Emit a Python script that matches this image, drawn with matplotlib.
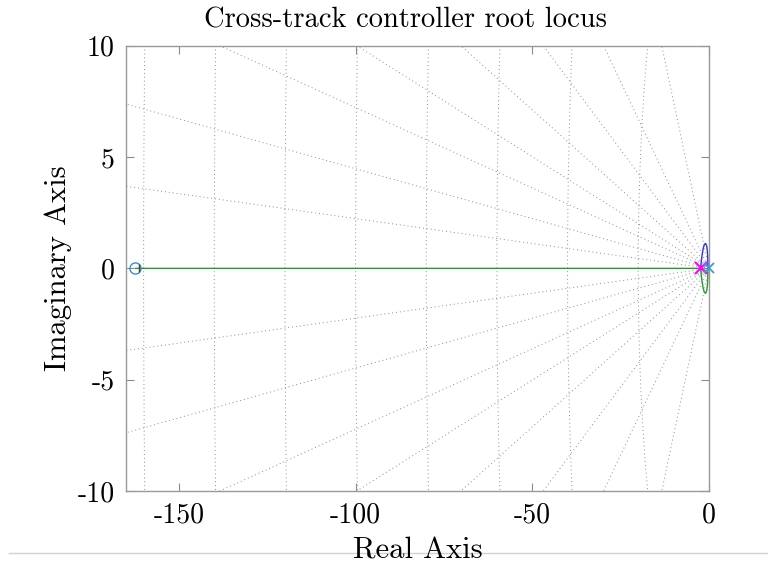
import numpy as np
import matplotlib
matplotlib.use("Agg")
import matplotlib.pyplot as plt
from matplotlib.lines import Line2D
from matplotlib.ticker import FuncFormatter

plt.rcParams['font.family'] = 'serif'
plt.rcParams['font.serif'] = ['cmr10']
plt.rcParams['mathtext.fontset'] = 'cm'

# locus branches
blue_re = [-0.25, -0.3, -0.4, -0.6, -0.9, -1.25, -1.6, -1.95, -2.2, -2.3]
blue_im = [0.0, 0.4, 0.75, 1.0, 1.12, 1.08, 0.9, 0.55, 0.25, 0.0]
green_re = [-0.25, -0.3, -0.4, -0.6, -0.9, -1.25, -1.6, -1.95, -2.2, -2.3, -162.3]
green_im = [0.0, -0.4, -0.75, -1.0, -1.12, -1.08, -0.9, -0.55, -0.25, 0.0, 0.0]

poles_re = [-2.3, 0.0]
zeros_re = [-162.4]

# sgrid
damping = [0.99975, 0.999, 0.9974, 0.995, 0.99, 0.978, 0.948, 0.8]
wn = [20, 40, 60, 80, 100, 120, 140, 160]

fig = plt.figure(figsize=(7.68, 5.65), dpi=100)
ax = fig.add_axes([0.164, 0.131, 0.759, 0.788])

gc = '0.55'
for z in damping:
    th = np.arccos(z)
    r = 400
    ax.plot([0, -r * np.cos(th)], [0, r * np.sin(th)], color=gc, lw=0.7, ls=(0, (1, 3)), zorder=1)
    ax.plot([0, -r * np.cos(th)], [0, -r * np.sin(th)], color=gc, lw=0.7, ls=(0, (1, 3)), zorder=1)
for w in wn:
    a = np.linspace(np.pi / 2, 3 * np.pi / 2, 2000)
    ax.plot(w * np.cos(a), w * np.sin(a), color=gc, lw=0.7, ls=(0, (1, 3)), zorder=1)

ax.plot(green_re, green_im, color='#2e962e', lw=1.0, zorder=3)
ax.plot(blue_re, blue_im, color='#3030e8', lw=1.0, zorder=3)

ax.plot(poles_re[0], 0, 'x', color='#ff00ff', ms=8, mew=1.5, zorder=4)
ax.plot(poles_re[1], 0, 'x', color='#3b9ae0', ms=7, mew=1.3, zorder=4, clip_on=False)
ax.plot(zeros_re, [0], 'o', mfc='none', mec='#3b8fd6', ms=8, mew=1.0, zorder=4)
ax.plot([-161.3], [0], '|', color='0.25', ms=6, mew=1.0, zorder=4)

ax.set_xlim(-165, 0)
ax.set_ylim(-10, 10)
ax.set_xticks([-150, -100, -50, 0])
ax.set_yticks([-10, -5, 0, 5, 10])
fmt = FuncFormatter(lambda v, p: '%d' % v)
ax.xaxis.set_major_formatter(fmt)
ax.yaxis.set_major_formatter(fmt)
ax.tick_params(direction='in', length=6, color='0.55', labelsize=20, top=True, right=True, pad=8)
for s in ax.spines.values():
    s.set_color('0.6')
    s.set_linewidth(1.0)

ax.set_title('Cross-track controller root locus', fontsize=20.5, pad=13, x=0.48)
ax.set_xlabel('Real Axis', fontsize=22, labelpad=6)
ax.set_ylabel('Imaginary Axis', fontsize=22, labelpad=4)

fig.add_artist(Line2D([0.012, 1.0], [1 - 553 / 565, 1 - 553 / 565], color='0.82', lw=1.0, zorder=0))

fig.savefig('out.png', dpi=100)
